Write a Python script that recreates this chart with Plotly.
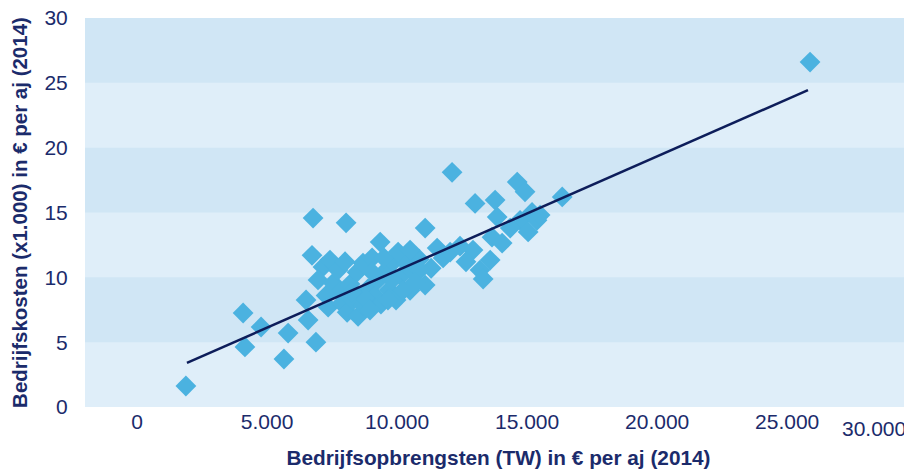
import plotly.graph_objects as go

# Bedrijfsopbrengsten (TW) in € per aj
opbrengsten = [
    1880, 4080, 4770, 4150, 5810, 5650, 6730, 6770, 6880, 6580,
    6500, 8040, 7150, 7420, 6960, 7540, 7350, 7810, 7880, 8080,
    8310, 8500, 8690, 8190, 8460, 8690, 9040, 8880, 9150, 9380,
    9270, 9580, 9350, 9850, 9690, 9960, 10150, 10350, 10500, 10620,
    10850, 11080, 11080, 11310, 11540, 11770, 12040, 12115, 12420, 12920,
    13000, 13770, 14620, 14920, 16350, 13850, 14730, 15380, 15040, 13650,
    13580, 13190, 13310, 12650, 15500, 25880, 14040, 14350, 15190, 9500,
    10040, 10500, 9810, 10230, 9040, 7730, 8000, 8770, 8960, 9650,
    10880, 7270, 8270, 10690,
]
# Bedrijfskosten (x1.000) in € per aj
kosten = [
    1.62, 7.25, 6.17, 4.63, 5.70, 3.70, 11.70, 14.57, 5.00, 6.70,
    8.25, 14.20, 10.80, 11.33, 9.80, 9.56, 7.70, 8.87, 8.00, 7.30,
    8.25, 7.00, 7.86, 9.48, 10.40, 11.10, 11.50, 9.10, 8.56, 7.94,
    9.80, 10.56, 12.72, 11.18, 9.02, 8.25, 10.10, 11.10, 9.00, 10.40,
    11.40, 9.40, 13.80, 10.70, 12.26, 11.50, 11.95, 18.10, 12.40, 12.10,
    15.70, 15.96, 17.35, 16.60, 16.20, 14.65, 14.40, 14.40, 13.50, 13.10,
    11.33, 10.56, 9.87, 11.20, 14.80, 26.60, 12.64, 13.80, 15.00, 11.50,
    11.95, 12.10, 9.80, 9.00, 10.40, 10.56, 11.20, 8.40, 7.48, 8.25,
    10.56, 8.60, 8.87, 9.60,
]
# linear trend line end points
trend_x = [1920, 25800]
trend_y = [3.4, 24.44]

x_tickvals = [0, 5000, 10000, 15000, 20000, 25000]
x_ticktext = ["0", "5.000", "10.000", "15.000", "20.000", "25.000"]
x_extra_label = "30.000"
y_tickvals = [0, 5, 10, 15, 20, 25, 30]

NAVY = "#1b2b6b"
DARK_BAND = "#d0e6f5"
LIGHT_BAND = "#dfeef9"
MARKER = "#4bb2e0"

fig = go.Figure()
fig.add_trace(go.Scatter(
    x=opbrengsten, y=kosten, mode="markers",
    marker=dict(symbol="diamond", size=16, color=MARKER, line=dict(width=0)),
    showlegend=False, hoverinfo="x+y",
))
fig.add_trace(go.Scatter(
    x=trend_x, y=trend_y, mode="lines",
    line=dict(color="#0d1d5a", width=2.5),
    showlegend=False, hoverinfo="skip",
))

shapes = []
for i in range(len(y_tickvals) - 1):
    if i % 2 == 1:
        shapes.append(dict(type="rect", xref="paper", yref="y",
                           x0=0, x1=1, y0=y_tickvals[i], y1=y_tickvals[i + 1],
                           fillcolor=DARK_BAND, line=dict(width=0), layer="below"))

fig.update_layout(
    width=904, height=462,
    margin=dict(l=77, r=0, t=10, b=63),
    paper_bgcolor="white", plot_bgcolor=LIGHT_BAND,
    font=dict(family="Liberation Sans, Arial, sans-serif", color=NAVY, size=21),
    shapes=shapes,
    xaxis=dict(
        range=[-2000, 29800], tickvals=x_tickvals, ticktext=x_ticktext,
        showgrid=False, zeroline=False, showline=False, automargin=False,
        ticks="", ticklabeloverflow="allow",
        tickfont=dict(size=21, color=NAVY),
        title=dict(text="<b>Bedrijfsopbrengsten (TW) in € per aj (2014)</b>",
                   font=dict(size=20.8, color=NAVY), standoff=18),
    ),
    yaxis=dict(
        range=[0, 30], tickvals=y_tickvals,
        showgrid=False, zeroline=False, showline=False, automargin=False,
        ticks="outside", ticklen=12, tickcolor="rgba(0,0,0,0)",
        ticklabeloverflow="allow",
        tickfont=dict(size=21, color=NAVY),
        title=dict(text="<b>Bedrijfskosten (x1.000) in € per aj (2014)</b>",
                   font=dict(size=20.5, color=NAVY), standoff=12),
    ),
    annotations=[dict(
        text=x_extra_label, xref="paper", yref="paper",
        x=0.954, y=-0.054, xanchor="center", yanchor="middle",
        showarrow=False, font=dict(size=21, color=NAVY),
    )],
)

fig.write_html("out.html")
